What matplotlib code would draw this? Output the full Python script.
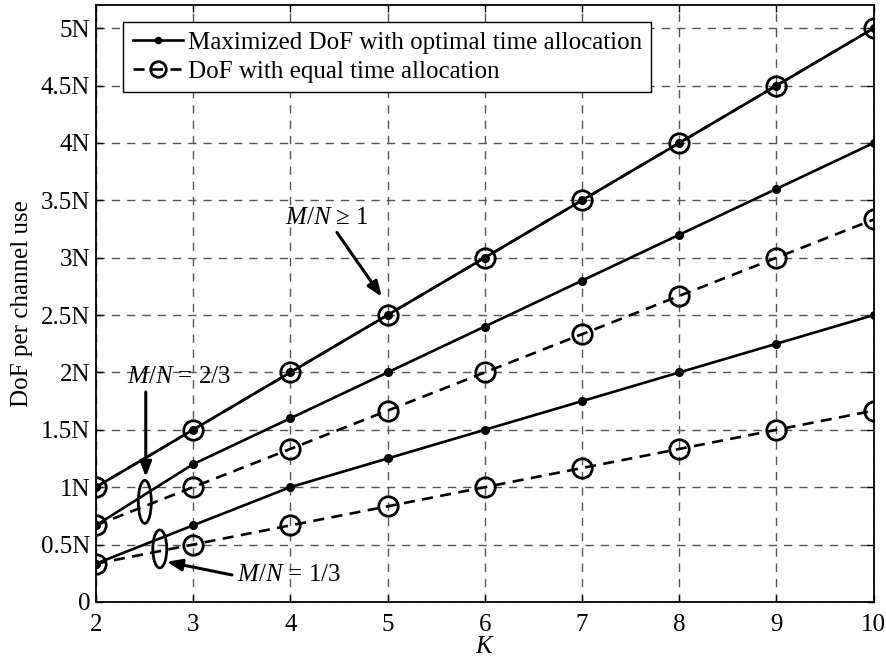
import matplotlib
matplotlib.use("Agg")
import matplotlib.pyplot as plt
from matplotlib.patches import Ellipse

plt.rcParams["font.family"] = ["Liberation Serif", "DejaVu Serif"]
plt.rcParams["mathtext.fontset"] = "custom"
plt.rcParams["mathtext.rm"] = "Liberation Serif"
plt.rcParams["mathtext.it"] = "Liberation Serif:italic"

# Number of users K
K = [2, 3, 4, 5, 6, 7, 8, 9, 10]

# DoF per channel use (in units of N)
opt_ge1 = [1.0, 1.5, 2.0, 2.5, 3.0, 3.5, 4.0, 4.5, 5.0]
eq_ge1 = [1.0, 1.5, 2.0, 2.5, 3.0, 3.5, 4.0, 4.5, 5.0]
opt_23 = [0.667, 1.2, 1.6, 2.0, 2.4, 2.8, 3.2, 3.6, 4.0]
eq_23 = [0.667, 1.0, 1.333, 1.667, 2.0, 2.333, 2.667, 3.0, 3.333]
opt_13 = [0.333, 0.667, 1.0, 1.25, 1.5, 1.75, 2.0, 2.25, 2.5]
eq_13 = [0.333, 0.5, 0.667, 0.833, 1.0, 1.167, 1.333, 1.5, 1.667]

yticks = [0, 0.5, 1, 1.5, 2, 2.5, 3, 3.5, 4, 4.5, 5]
ytick_labels = ["0", "0.5N", "1N", "1.5N", "2N", "2.5N", "3N", "3.5N", "4N", "4.5N", "5N"]

FS = 18

fig = plt.figure(figsize=(8.87, 6.6), dpi=100)
ax = fig.add_axes([0.108, 0.088, 0.877, 0.904])

lw = 1.9
opt_style = dict(color="black", lw=lw, ls="-", marker="o", ms=5.5, mfc="black", mec="black")
eq_style = dict(color="black", lw=lw, ls=(0, (4.2, 2.8)), marker="o", ms=14, mfc="none",
                mec="black", mew=2.0)

l1, = ax.plot(K, opt_ge1, **opt_style, zorder=4)
l2, = ax.plot(K, eq_ge1, **eq_style, zorder=3)
ax.plot(K, opt_23, **opt_style, zorder=4)
ax.plot(K, eq_23, **eq_style, zorder=3)
ax.plot(K, opt_13, **opt_style, zorder=4)
ax.plot(K, eq_13, **eq_style, zorder=3)

ax.set_xlim(2, 10)
ax.set_ylim(0, 5.2)
ax.set_xticks(K)
ax.set_yticks(yticks)
ax.set_yticklabels(ytick_labels)
ax.tick_params(direction="in", top=True, right=True, labelsize=FS, length=5, width=1)
ax.tick_params(axis="x", pad=9)
ax.tick_params(axis="y", pad=4)
ax.grid(True, color="#555555", ls=(0, (6, 5)), lw=1.0)
for s in ax.spines.values():
    s.set_linewidth(1.3)

ax.set_xlabel("$K$", fontsize=FS, labelpad=0)
ax.set_ylabel("DoF per channel use", fontsize=FS, labelpad=6)

leg = ax.legend([l1, l2],
                ["Maximized DoF with optimal time allocation",
                 "DoF with equal time allocation"],
                loc="upper left", bbox_to_anchor=(0.035, 0.972), fontsize=FS,
                frameon=True, fancybox=False, edgecolor="black", framealpha=1,
                handlelength=2.0, handletextpad=0.2, borderpad=0.38,
                labelspacing=0.25, borderaxespad=0)
leg.get_frame().set_linewidth(1.0)
for h in leg.legend_handles:
    h.set_markersize(h.get_markersize() * 0.8)

arrow = dict(arrowstyle="-|>,head_length=0.9,head_width=0.35", color="black", lw=2.2,
             shrinkA=0, shrinkB=0)

ax.text(4.375, 3.35, "$M/N$ \u2265 1", fontsize=FS, ha="center", va="center")
ax.annotate("", xy=(4.94, 2.66), xytext=(4.48, 3.22), arrowprops=arrow)

ax.text(2.86, 1.96, "$M/N$ = 2/3", fontsize=FS, ha="center", va="center")
ax.annotate("", xy=(2.514, 1.09), xytext=(2.514, 1.83), arrowprops=arrow)
ax.add_patch(Ellipse((2.504, 0.872), 0.134, 0.375, fill=False, ec="black", lw=2.0, zorder=5))

ax.text(3.45, 0.235, "$M/N$ = 1/3", fontsize=FS, ha="left", va="center")
ax.annotate("", xy=(2.73, 0.35), xytext=(3.40, 0.235), arrowprops=arrow)
ax.add_patch(Ellipse((2.658, 0.462), 0.144, 0.331, fill=False, ec="black", lw=2.0, zorder=5))

fig.savefig("out.png", dpi=100)
